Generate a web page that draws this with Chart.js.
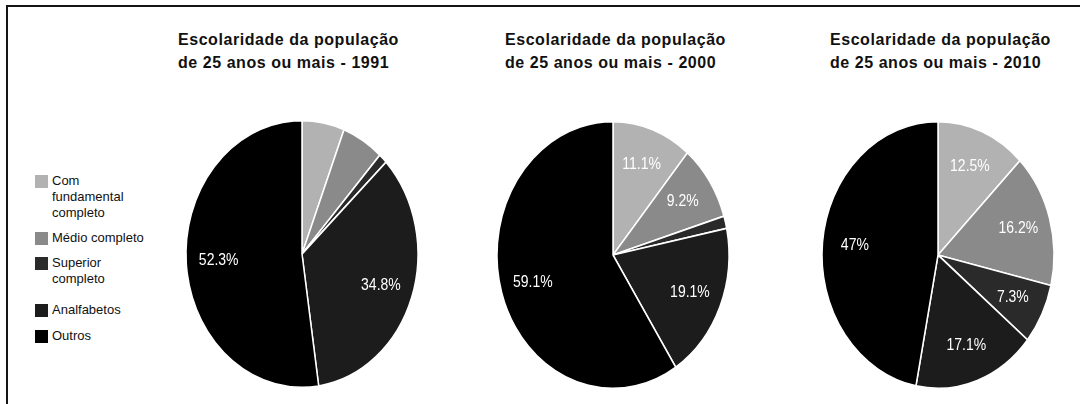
<!DOCTYPE html>
<html>
<head>
<meta charset="utf-8">
<script src="https://cdn.jsdelivr.net/npm/chart.js@4/dist/chart.umd.min.js"></script>
<style>
  html, body { margin: 0; padding: 0; background: #fff; }
  body { width: 1080px; height: 404px; position: relative; overflow: hidden; font-family: "Liberation Sans", Arial, sans-serif; }
  #frame { position: absolute; left: 6px; top: 5px; width: 1080px; height: 420px; border-top: 2px solid #151515; border-left: 2px solid #151515; }
  .title { position: absolute; top: 28px; font-weight: bold; font-size: 16px; line-height: 23px; letter-spacing: 0.55px; color: #111; white-space: pre; }
  .pie { position: absolute; }
  .leg { position: absolute; left: 35px; font-size: 13px; line-height: 16px; color: #111; }
  .leg .sw { position: absolute; left: 0; top: 2px; width: 13px; height: 13px; }
  .leg .tx { position: absolute; left: 17px; top: 0; white-space: nowrap; }
</style>
</head>
<body>
<div id="frame"></div>
<div id="root"></div>
<script>
// categories, in legend order (clockwise from the top of each pie)
const categories = [
  ["Com", "fundamental", "completo"],
  ["Médio completo"],
  ["Superior", "completo"],
  ["Analfabetos"],
  ["Outros"]
];
const colors = ["#b2b2b2", "#8a8a8a", "#2a2a2a", "#1c1c1c", "#000000"];

const years = ["1991", "2000", "2010"];
// percentages per year
const values1991 = [5.9, 5.8, 1.2, 34.8, 52.3];
const values2000 = [11.1, 9.2, 1.5, 19.1, 59.1];
const values2010 = [12.5, 16.2, 7.3, 17.1, 47];
const series = [values1991, values2000, values2010];

// layout
const pieCenters = [[302, 254], [613, 255], [938, 255]];
const titleLefts = [178, 505, 830];
const legendTops = [173, 230, 255, 302, 328];
const RADIUS = 116;
const STRETCH = 1.15; // pies in the picture are a bit taller than wide
const LABEL_MIN = 6; // small slices carry no label

const stretchPlugin = {
  id: "stretch",
  beforeDatasetsDraw(chart) {
    const arc = chart.getDatasetMeta(0).data[0];
    const ctx = chart.ctx;
    ctx.save();
    ctx.translate(arc.x, arc.y);
    ctx.scale(1, STRETCH);
    ctx.translate(-arc.x, -arc.y);
  },
  afterDatasetsDraw(chart) {
    const ctx = chart.ctx;
    const data = chart.data.datasets[0].data;
    ctx.fillStyle = "#ffffff";
    ctx.font = "14px 'Liberation Sans', Arial, sans-serif";
    ctx.textAlign = "center";
    ctx.textBaseline = "middle";
    chart.getDatasetMeta(0).data.forEach((arc, i) => {
      if (data[i] < LABEL_MIN) return;
      const mid = (arc.startAngle + arc.endAngle) / 2;
      const r = arc.outerRadius * 0.72;
      ctx.fillText(data[i] + "%", arc.x + Math.cos(mid) * r, arc.y + Math.sin(mid) * r);
    });
    ctx.restore();
  }
};

const root = document.getElementById("root");

// legend
categories.forEach((lines, i) => {
  const item = document.createElement("div");
  item.className = "leg";
  item.style.top = legendTops[i] + "px";
  item.innerHTML = '<div class="sw" style="background:' + colors[i] + '"></div><div class="tx">' + lines.join("<br>") + "</div>";
  root.appendChild(item);
});

years.forEach((year, k) => {
  const title = document.createElement("div");
  title.className = "title";
  title.style.left = titleLefts[k] + "px";
  title.textContent = "Escolaridade da população\nde 25 anos ou mais - " + year;
  root.appendChild(title);

  const w = 260, h = 310;
  const holder = document.createElement("div");
  holder.className = "pie";
  holder.style.left = (pieCenters[k][0] - w / 2) + "px";
  holder.style.top = (pieCenters[k][1] - h / 2) + "px";
  holder.style.width = w + "px";
  holder.style.height = h + "px";
  const canvas = document.createElement("canvas");
  holder.appendChild(canvas);
  root.appendChild(holder);

  new Chart(canvas.getContext("2d"), {
    type: "pie",
    data: {
      labels: categories.map((c) => c.join(" ")),
      datasets: [
        {
          data: series[k],
          backgroundColor: colors,
          borderColor: "#ffffff",
          borderWidth: 1.5,
        },
      ],
    },
    options: {
      responsive: true,
      maintainAspectRatio: false,
      animation: false,
      radius: RADIUS,
      layout: { padding: 0 },
      plugins: {
        legend: { display: false },
        tooltip: { enabled: false },
      },
    },
    plugins: [stretchPlugin],
  });
});
</script>
</body>
</html>
